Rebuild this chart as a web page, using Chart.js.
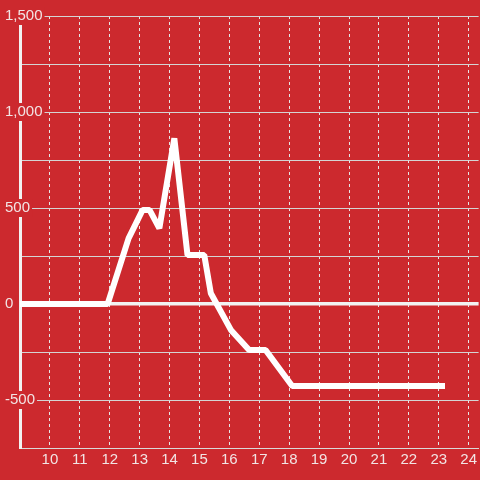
<!DOCTYPE html>
<html><head><meta charset="utf-8">
<script src="https://cdn.jsdelivr.net/npm/chart.js@4/dist/chart.umd.min.js"></script>
<style>html,body{margin:0;padding:0;background:#cc292e;}canvas{display:block;}</style>
</head><body>
<canvas id="c" width="480" height="480"></canvas>
<script>
// data
const xValues = [9, 11.93, 12.63, 13.1, 13.33, 13.66, 14.16, 14.6, 15.16, 15.38, 16.05, 16.66, 17.21, 18.1, 23.21];
const yValues = [0, 0, 342, 490, 490, 394, 863, 255, 255, 56, -135, -240, -240, -427, -427];
const xTickLabels = [10, 11, 12, 13, 14, 15, 16, 17, 18, 19, 20, 21, 22, 23, 24];
const yTickLabels = [-500, 0, 500, 1000, 1500];

const BG = '#cc292e';
const points = xValues.map((x, i) => ({x: x, y: yValues[i]}));

const bgPlugin = {
  id: 'bg',
  beforeDraw(chart) {
    const c = chart.ctx;
    c.save();
    c.fillStyle = BG;
    c.fillRect(0, 0, chart.width, chart.height);
    c.restore();
  }
};

new Chart(document.getElementById('c'), {
  type: 'line',
  data: {
    datasets: [{
      data: points,
      borderColor: '#ffffff',
      borderWidth: 6,
      borderJoinStyle: 'bevel',
      pointRadius: 0,
      tension: 0,
      fill: false
    }]
  },
  options: {
    responsive: false,
    animation: false,
    layout: {padding: {top: 16, left: 4, right: 0, bottom: 0}},
    plugins: {legend: {display: false}, tooltip: {enabled: false}},
    scales: {
      x: {
        type: 'linear',
        min: 9,
        max: 24.333,
        afterFit(s) { s.height = 32; },
        ticks: {
          stepSize: 1,
          includeBounds: false,
          autoSkip: false,
          maxRotation: 0,
          padding: 3,
          color: '#f2e4e4',
          font: {family: 'Liberation Sans, Arial, sans-serif', size: 15},
          callback: (v) => xTickLabels.includes(v) ? String(v) : ''
        },
        grid: {color: '#e6e6e6', lineWidth: 1, drawTicks: false, borderDash: [3, 3]},
        border: {display: true, color: '#d9d9d9', width: 1, dash: [3, 3]}
      },
      y: {
        type: 'linear',
        min: -750,
        max: 1500,
        afterFit(s) { s.width = 16; },
        ticks: {
          stepSize: 250,
          autoSkip: false,
          mirror: true,
          crossAlign: 'near',
          padding: -15,
          color: '#f2e4e4',
          font: {family: 'Liberation Sans, Arial, sans-serif', size: 15},
          showLabelBackdrop: true,
          backdropColor: BG,
          backdropPadding: {left: 2, right: 2, top: 0, bottom: 0},
          callback: (v) => yTickLabels.includes(v) ? v.toLocaleString('en-US') : ''
        },
        grid: {
          drawTicks: false,
          color: (ctx) => ctx.tick && ctx.tick.value === 0 ? '#f2f2f2' : '#d4d4d4',
          lineWidth: (ctx) => ctx.tick && ctx.tick.value === 0 ? 3.5 : 1
        },
        border: {display: true, color: '#f2f2f2', width: 3}
      }
    }
  },
  plugins: [bgPlugin]
});
</script>
</body></html>
